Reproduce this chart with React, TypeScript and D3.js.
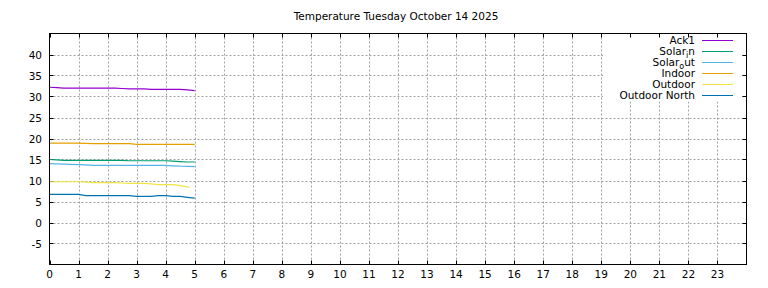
import React from "react";
import * as d3 from "d3";

const title = "Temperature Tuesday October 14 2025";
const xTicks = d3.range(0, 24);
const yTicks = [-5, 0, 5, 10, 15, 20, 25, 30, 35, 40];

const hours = [0, 0.25, 0.5, 0.75, 1, 1.25, 1.5, 1.75, 2, 2.25, 2.5, 2.75, 3, 3.25, 3.5, 3.75, 4, 4.25, 4.5, 4.75, 5];
const hoursOutdoor = [0, 0.25, 0.5, 0.75, 1, 1.25, 1.5, 1.75, 2, 2.25, 2.5, 2.75, 3, 3.25, 3.5, 3.75, 4, 4.25, 4.5, 4.83];

const ack1 = [32.2, 32.1, 32.0, 32.0, 32.0, 32.0, 32.0, 32.0, 32.0, 32.0, 31.9, 31.8, 31.8, 31.8, 31.7, 31.7, 31.7, 31.7, 31.7, 31.6, 31.4];
const solarIn = [15.0, 14.9, 14.8, 14.8, 14.8, 14.8, 14.8, 14.8, 14.8, 14.8, 14.8, 14.7, 14.7, 14.7, 14.7, 14.7, 14.7, 14.6, 14.5, 14.4, 14.4];
const solarOut = [14.0, 13.95, 13.9, 13.85, 13.8, 13.7, 13.6, 13.6, 13.6, 13.6, 13.6, 13.6, 13.6, 13.6, 13.6, 13.6, 13.6, 13.5, 13.4, 13.35, 13.3];
const indoor = [18.9, 18.9, 18.9, 18.9, 18.9, 18.85, 18.8, 18.8, 18.8, 18.8, 18.8, 18.8, 18.6, 18.6, 18.6, 18.6, 18.6, 18.6, 18.6, 18.6, 18.6];
const outdoor = [9.7, 9.7, 9.7, 9.7, 9.7, 9.6, 9.5, 9.5, 9.5, 9.5, 9.4, 9.3, 9.3, 9.3, 9.2, 9.0, 9.0, 9.0, 8.8, 8.4];
const outdoorNorth = [6.7, 6.7, 6.7, 6.7, 6.7, 6.4, 6.4, 6.4, 6.4, 6.4, 6.4, 6.4, 6.2, 6.2, 6.2, 6.4, 6.4, 6.2, 6.2, 6.0, 5.8];

const seriesNames = ["Ack1", "Solar_in", "Solar_out", "Indoor", "Outdoor", "Outdoor North"];
const seriesColors = ["#9400d3", "#009e73", "#56b4e9", "#e69f00", "#f0e442", "#0072b2"];

const series = [
  { name: seriesNames[0], x: hours, y: ack1, color: seriesColors[0] },
  { name: seriesNames[1], x: hours, y: solarIn, color: seriesColors[1] },
  { name: seriesNames[2], x: hours, y: solarOut, color: seriesColors[2] },
  { name: seriesNames[3], x: hours, y: indoor, color: seriesColors[3] },
  { name: seriesNames[4], x: hoursOutdoor, y: outdoor, color: seriesColors[4] },
  { name: seriesNames[5], x: hours, y: outdoorNorth, color: seriesColors[5] },
];

const W = 768, H = 288;
const left = 49.5, right = 746.5, top = 33.5, bottom = 264.5;
const font = "'DejaVu Sans', sans-serif";

function Label({ text }: { text: string }) {
  const idx = text.indexOf("_");
  if (idx < 0) return <>{text}</>;
  const before = text.slice(0, idx);
  const sub = text.slice(idx + 1, idx + 2);
  const after = text.slice(idx + 2);
  return (
    <>
      {before}
      <tspan dy={2.5} fontSize={8}>{sub}</tspan>
      <tspan dy={-2.5}>{after}</tspan>
    </>
  );
}

export default function App() {
  const x = d3.scaleLinear().domain([0, 24]).range([left, right]);
  const y = d3.scaleLinear().domain([-10, 45]).range([bottom, top]);
  const line = d3.line<[number, number]>().x(d => x(d[0])).y(d => y(d[1]));

  return (
    <svg width={W} height={H} style={{ position: "absolute", left: 0, top: 0, background: "#fff" }} fontFamily={font}>
      <rect x={0} y={0} width={W} height={H} fill="#fff" />
      <text x={W / 2 + 12} y={20} textAnchor="middle" fontSize={10.5} fill="#000">{title}</text>
      {/* grid */}
      {xTicks.filter(t => t > 0).map(t => (
        <line key={"gx" + t} x1={Math.round(x(t)) + 0.5} x2={Math.round(x(t)) + 0.5} y1={top} y2={bottom}
          stroke="#a0a0a0" strokeWidth={1} strokeDasharray="2,2" />
      ))}
      {yTicks.map(t => (
        <line key={"gy" + t} x1={left} x2={right} y1={Math.round(y(t)) + 0.5} y2={Math.round(y(t)) + 0.5}
          stroke="#a0a0a0" strokeWidth={1} strokeDasharray="2,2" />
      ))}
      {/* legend box (opaque) */}
      <rect x={603} y={top} width={139} height={68} fill="#fff" />
      {/* ticks */}
      {xTicks.map(t => (
        <g key={"tx" + t}>
          <line x1={Math.round(x(t)) + 0.5} x2={Math.round(x(t)) + 0.5} y1={bottom} y2={bottom - 4} stroke="#000" />
          <line x1={Math.round(x(t)) + 0.5} x2={Math.round(x(t)) + 0.5} y1={top} y2={top + 4} stroke="#000" />
          <text x={x(t)} y={278} textAnchor="middle" fontSize={10.5} fill="#000">{t}</text>
        </g>
      ))}
      {yTicks.map(t => (
        <g key={"ty" + t}>
          <line x1={left} x2={left + 4} y1={Math.round(y(t)) + 0.5} y2={Math.round(y(t)) + 0.5} stroke="#000" />
          <line x1={right} x2={right - 4} y1={Math.round(y(t)) + 0.5} y2={Math.round(y(t)) + 0.5} stroke="#000" />
          <text x={42} y={y(t) + 4} textAnchor="end" fontSize={10.5} fill="#000">{t}</text>
        </g>
      ))}
      {/* series */}
      {series.map(s => (
        <path key={s.name} d={line(s.x.map((h, i) => [h, s.y[i]] as [number, number])) || ""}
          fill="none" stroke={s.color} strokeWidth={1.2} />
      ))}
      {/* border */}
      <rect x={left} y={top} width={right - left} height={bottom - top} fill="none" stroke="#000" strokeWidth={1} />
      {/* legend */}
      {series.map((s, i) => (
        <g key={"lg" + s.name}>
          <text x={695} y={44 + i * 11} textAnchor="end" fontSize={10.5} fill="#000"><Label text={s.name} /></text>
          <line x1={702} x2={733} y1={40.5 + i * 11} y2={40.5 + i * 11} stroke={s.color} strokeWidth={1} />
        </g>
      ))}
    </svg>
  );
}
